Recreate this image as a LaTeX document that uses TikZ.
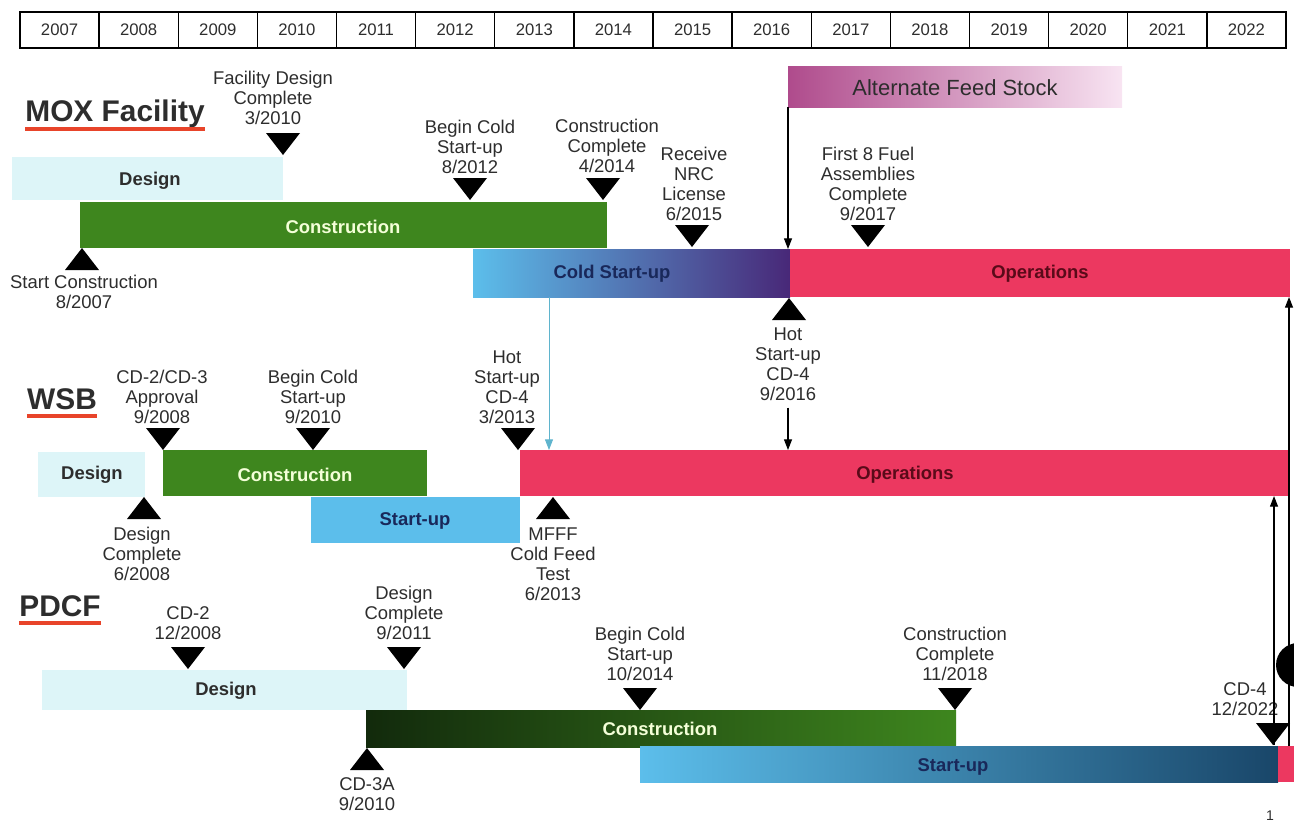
\documentclass[tikz,border=0pt]{standalone}
\usepackage{fontspec}
\setmainfont{Liberation Sans}
\usetikzlibrary{fit,arrows.meta}
\definecolor{dsgn}{RGB}{221,245,248}
\definecolor{cnst}{RGB}{62,134,30}
\definecolor{cnsttxt}{RGB}{244,255,216}
\definecolor{cold}{RGB}{92,190,235}
\definecolor{coldmid}{RGB}{70,130,215}
\definecolor{hotpur}{RGB}{72,40,120}
\definecolor{oper}{RGB}{236,56,96}
\definecolor{opertxt}{RGB}{90,10,25}
\definecolor{navy}{RGB}{25,40,90}
\definecolor{afsl}{RGB}{175,75,140}
\definecolor{afsr}{RGB}{248,228,242}
\definecolor{darkgrn}{RGB}{18,42,12}
\definecolor{sumid}{RGB}{80,165,215}
\definecolor{sudark}{RGB}{25,70,105}
\definecolor{uline}{RGB}{232,68,42}
\definecolor{fdline}{RGB}{95,180,205}
\definecolor{txt}{RGB}{45,45,45}

\begin{document}
\begin{tikzpicture}[x=0.02cm, y=-0.02cm,
		every node/.style={text=txt},
		yr/.style={draw, line width=0.8pt, minimum width=1.5825cm, minimum height=0.72cm, inner sep=0, font=\fontsize{9.5}{10}\selectfont},
		bar/.style={inner sep=0, outer sep=0},
		blbl/.style={font=\bfseries\fontsize{10.5}{12}\selectfont},
		ms/.style={align=center, inner sep=0, font=\fontsize{10.5}{11.3}\selectfont},
		ttl/.style={inner sep=0, font=\bfseries\fontsize{17}{20}\selectfont},
		ul/.style={uline, line width=2.4pt},
		arr/.style={-{Triangle[length=6pt,width=4.5pt]}, line width=0.6pt},
		mdn/.pic={\fill (0,0) -- (-17,-22) -- (17,-22) -- cycle;},
		mup/.pic={\fill (0,0) -- (-17,22) -- (17,22) -- cycle;}]
		\useasboundingbox (0,0) rectangle (1294,822);
		%%%%%%%%%%%%%
		\foreach \yy [count=\i from 0] in {2007,...,2022} {
			\pgfmathsetmacro\xc{59.56+79.125*\i}
			\node[yr] (y\yy) at (\xc,30) {\yy};
		}
		%%%%%%%%%%%%% MOX
		\node[ttl] (mttl) at (115,114) {MOX Facility};
		\draw[ul] ([yshift=-4pt]mttl.base west) -- ([yshift=-4pt]mttl.base east);
		\node[bar, fill=dsgn, fit={(12,157) (283,200)}] (mdes) {};
		\node[bar, fill=cnst, fit={(80,202) (607,248)}] (mcon) {};
		\node[bar, left color=cold, middle color=coldmid, right color=hotpur, fit={(473,249) (790,297)}] (mcsu) {};
		\node[bar, fill=oper, fit={(790,249) (1290,297)}] (mops) {};
		\node[bar, left color=afsl, right color=afsr, fit={(788,66) (1122,107)}] (mafs) {};
		\node[blbl] (mdesl) at (150,181) {Design};
		\node[blbl, text=cnsttxt] (mconl) at (343,227) {Construction};
		\node[blbl, text=navy] (mcsul) at (612,274) {Cold Start-up};
		\node[blbl, text=opertxt] (mopsl) at (1040,274) {Operations};
		\node[font=\fontsize{12.5}{14}\selectfont] (mafsl) at (955,88) {Alternate Feed Stock};
		\pic at (283,155) {mdn};
		\node[ms] (mfdc) at (273,98) {Facility Design\\Complete\\3/2010};
		\pic at (470,200) {mdn};
		\node[ms] (mbcs) at (470,147) {Begin Cold\\Start-up\\8/2012};
		\pic at (603,200) {mdn};
		\node[ms] (mcc) at (607,146) {Construction\\Complete\\4/2014};
		\pic at (692,247) {mdn};
		\node[ms] (mnrc) at (694,184) {Receive\\NRC\\License\\6/2015};
		\pic at (868,247) {mdn};
		\node[ms] (mfa) at (868,184) {First 8 Fuel\\Assemblies\\Complete\\9/2017};
		\pic at (82,248) {mup};
		\node[ms] (msc) at (84,292) {Start Construction\\8/2007};
		\pic at (789,298) {mup};
		\node[ms] (mhs) at (788,364) {Hot\\Start-up\\CD-4\\9/2016};
		%%%%%%%%%%%%% WSB
		\node[ttl] (wttl) at (62,399) {WSB};
		\draw[ul] ([yshift=-4pt]wttl.base west) -- ([yshift=-4pt]wttl.base east);
		\node[bar, fill=dsgn, fit={(38,452) (145,497)}] (wdes) {};
		\node[bar, fill=cnst, fit={(163,450) (427,496)}] (wcon) {};
		\node[bar, fill=cold, fit={(311,497) (520,543)}] (wsu) {};
		\node[bar, fill=oper, fit={(520,450) (1290,496)}] (wops) {};
		\node[blbl] (wdesl) at (92,475) {Design};
		\node[blbl, text=cnsttxt] (wconl) at (295,475) {Construction};
		\node[blbl, text=navy] (wsul) at (415,521) {Start-up};
		\node[blbl, text=opertxt] (wopsl) at (905,475) {Operations};
		\pic at (163,450) {mdn};
		\node[ms] (wcd) at (162,397) {CD-2/CD-3\\Approval\\9/2008};
		\pic at (313,450) {mdn};
		\node[ms] (wbcs) at (313,397) {Begin Cold\\Start-up\\9/2010};
		\pic at (518,450) {mdn};
		\node[ms] (whs) at (507,387) {Hot\\Start-up\\CD-4\\3/2013};
		\pic at (144,497) {mup};
		\node[ms] (wdc) at (142,554) {Design\\Complete\\6/2008};
		\pic at (553,497) {mup};
		\node[ms] (wcft) at (553,564) {MFFF\\Cold Feed\\Test\\6/2013};
		%%%%%%%%%%%%% PDCF
		\node[ttl] (pttl) at (60,606) {PDCF};
		\draw[ul] ([yshift=-4pt]pttl.base west) -- ([yshift=-4pt]pttl.base east);
		\node[bar, fill=dsgn, fit={(42,670) (407,710)}] (pdes) {};
		\node[bar, left color=darkgrn, middle color=cnst!80!black, right color=cnst, fit={(366,710) (956,747)}] (pcon) {};
		\node[bar, left color=cold, middle color=sumid, right color=sudark, fit={(640,746) (1278,782)}] (psu) {};
		\node[bar, fill=oper, fit={(1278,746) (1294,782)}] (pend) {};
		\node[blbl] (pdesl) at (226,691) {Design};
		\node[blbl, text=cnsttxt] (pconl) at (660,729) {Construction};
		\node[blbl, text=navy] (psul) at (953,767) {Start-up};
		\pic at (188,669) {mdn};
		\node[ms] (pcd2) at (188,623) {CD-2\\12/2008};
		\pic at (404,669) {mdn};
		\node[ms] (pdc) at (404,613) {Design\\Complete\\9/2011};
		\pic at (640,710) {mdn};
		\node[ms] (pbcs) at (640,654) {Begin Cold\\Start-up\\10/2014};
		\pic at (955,710) {mdn};
		\node[ms] (pcc) at (955,654) {Construction\\Complete\\11/2018};
		\pic at (1273,745) {mdn};
		\node[ms] (pcd4l) at (1245,699) {CD-4\\12/2022};
		\pic at (367,748) {mup};
		\node[ms] (pcd3) at (367,794) {CD-3A\\9/2010};
		%%%%%%%%%%%%% links
		\coordinate (c1) at (549,297);
		\coordinate (pcd4) at (1274,745);
		\coordinate (c2) at (1289,746);
		\draw[arr] (mafs.south west) -- (mafs.south west |- mops.north);
		\draw[arr, fdline, line width=0.5pt] (c1) -- (c1 |- wops.north);
		\draw[arr] ([yshift=-4pt]mhs.south) -- (mhs.south |- wops.north);
		\draw[arr] (pcd4) -- (pcd4 |- wops.south);
		\draw[arr] (c2) -- (c2 |- mops.south);
		\fill (1298,665) circle[radius=0.44cm];
		\node[ms, anchor=south, font=\fontsize{8}{9}\selectfont] (pg) at (1270,821) {1};
\end{tikzpicture}
\end{document}
